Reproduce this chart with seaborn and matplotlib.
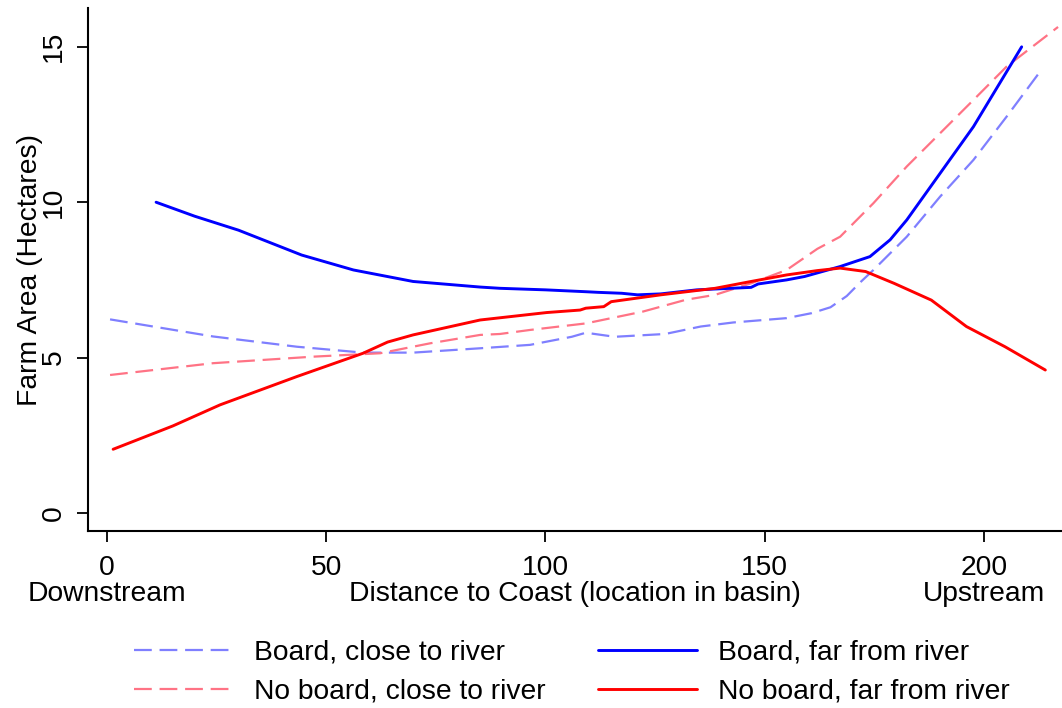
import matplotlib
matplotlib.use("Agg")
import matplotlib.pyplot as plt
import numpy as np
import pandas as pd
import seaborn as sns

# Board, far from river
board_far_x = [11.2, 20, 30, 44.4, 56.2, 69.8, 85.1, 89.6, 100, 109.2, 112, 117.4,
               121, 126.3, 134.5, 146.9, 148.5, 155, 159.1, 167.2, 174, 178.6,
               182.4, 186.2, 190, 197.6, 208.6]
board_far_y = [10.0, 9.55, 9.1, 8.3, 7.82, 7.45, 7.27, 7.23, 7.18, 7.12, 7.1, 7.07,
               7.02, 7.05, 7.18, 7.26, 7.37, 7.5, 7.61, 7.93, 8.25, 8.79,
               9.43, 10.18, 10.93, 12.43, 15.0]

# No board, far from river
no_board_far_x = [1.4, 15, 25.8, 43.3, 58.4, 64, 69.8, 85.1, 100.3, 107.9, 109.2,
                  113.3, 115, 126.3, 138.7, 146.9, 155, 162, 167.2, 173, 179.5,
                  188, 196, 204.8, 214]
no_board_far_y = [2.05, 2.8, 3.48, 4.39, 5.14, 5.5, 5.73, 6.21, 6.45, 6.53, 6.59,
                  6.64, 6.8, 7.02, 7.23, 7.45, 7.66, 7.8, 7.88, 7.77, 7.39,
                  6.85, 6.0, 5.35, 4.6]

# Board, close to river
board_close_x = [0.7, 24.2, 43.3, 58.4, 69.8, 85.1, 96.5, 106, 109.2, 115.8, 127.3,
                 135.4, 142.8, 155, 160.7, 165, 168.7, 172, 174.8, 182.4, 190,
                 197.6, 205.2, 213.1]
board_close_y = [6.23, 5.68, 5.35, 5.16, 5.16, 5.3, 5.41, 5.67, 5.8, 5.67, 5.76,
                 6.0, 6.13, 6.27, 6.43, 6.62, 6.98, 7.45, 7.82, 8.89, 10.18,
                 11.36, 12.76, 14.26]

# No board, close to river
no_board_close_x = [0.7, 24.2, 47, 62.3, 73.7, 85.1, 89.6, 96.5, 109.2, 122.2, 132,
                    138.7, 146.9, 155, 162, 167.2, 174.8, 182.4, 190, 197.6, 205.2,
                    216.9]
no_board_close_y = [4.44, 4.82, 5.03, 5.14, 5.46, 5.73, 5.76, 5.89, 6.1, 6.48, 6.86,
                    7.02, 7.39, 7.82, 8.5, 8.89, 9.97, 11.15, 12.22, 13.29, 14.37,
                    15.64]

x_ticks = [0, 50, 100, 150, 200]
x_tick_labels = ["0\nDownstream", "50", "100", "150", "200\nUpstream"]
y_ticks = [0, 5, 10, 15]
y_tick_labels = ["0", "5", "10", "15"]

sns.set_style("ticks")
plt.rcParams["font.family"] = ["Liberation Sans", "DejaVu Sans"]
plt.rcParams.update({
    "text.color": "black",
    "axes.labelcolor": "black",
    "xtick.color": "black",
    "ytick.color": "black",
    "axes.edgecolor": "black",
})
FS = 20.3

fig = plt.figure(figsize=(10.62, 7.08), dpi=100)
ax = fig.add_axes([88 / 1062, (708 - 531) / 708, (1062 - 88) / 1062, (531 - 8) / 708])

series = [
    ("Board, close to river", board_close_x, board_close_y, "#7f7fff", True),
    ("No board, close to river", no_board_close_x, no_board_close_y, "#ff7385", True),
    ("Board, far from river", board_far_x, board_far_y, "#0000ff", False),
    ("No board, far from river", no_board_far_x, no_board_far_y, "#ff0000", False),
]

handles = {}
for name, xs, ys, col, dashed in series:
    df = pd.DataFrame({"distance": xs, "area": ys})
    kw = dict(lw=1.6, dashes=(8, 3.5)) if dashed else dict(lw=2.1)
    sns.lineplot(data=df, x="distance", y="area", color=col, ax=ax,
                 estimator=None, sort=True, label=name, **kw)
    handles[name] = ax.get_lines()[-1]

ax.set_xlim(-4.33, 217.8)
ax.set_ylim(-0.58, 16.25)

for side in ("top", "right"):
    ax.spines[side].set_visible(False)
for side in ("left", "bottom"):
    ax.spines[side].set_linewidth(1.5)
    ax.spines[side].set_color("black")

ax.set_xticks(x_ticks)
ax.set_xticklabels(x_tick_labels, fontsize=FS)
ax.set_yticks(y_ticks)
ax.set_yticklabels(y_tick_labels, fontsize=FS, rotation=90, va="center")
ax.tick_params(axis="both", length=8, width=1.3, color="black", direction="out")
ax.tick_params(axis="x", pad=9)
ax.tick_params(axis="y", pad=7)
for lab in ax.get_xticklabels():
    lab.set_linespacing(1.0)
    lab.set_multialignment("center")

ax.set_xlabel("Distance to Coast (location in basin)", fontsize=FS)
ax.xaxis.label.set_va("baseline")
ax.xaxis.set_label_coords(0.5, -0.134)
ax.set_ylabel("Farm Area (Hectares)", fontsize=FS)
ax.yaxis.label.set_va("center")
ax.yaxis.set_label_coords(-0.0596, 0.5)

leg_ax = ax.get_legend()
if leg_ax is not None:
    leg_ax.remove()

order = ["Board, close to river", "No board, close to river",
         "Board, far from river", "No board, far from river"]
fig.legend([handles[n] for n in order], order, ncol=2, loc="center",
           bbox_to_anchor=(0.5386, 0.0505), frameon=False, fontsize=FS,
           handlelength=3.5, handletextpad=0.75, columnspacing=1.85,
           labelspacing=0.45)

fig.savefig("out.png", dpi=100, facecolor="white")
